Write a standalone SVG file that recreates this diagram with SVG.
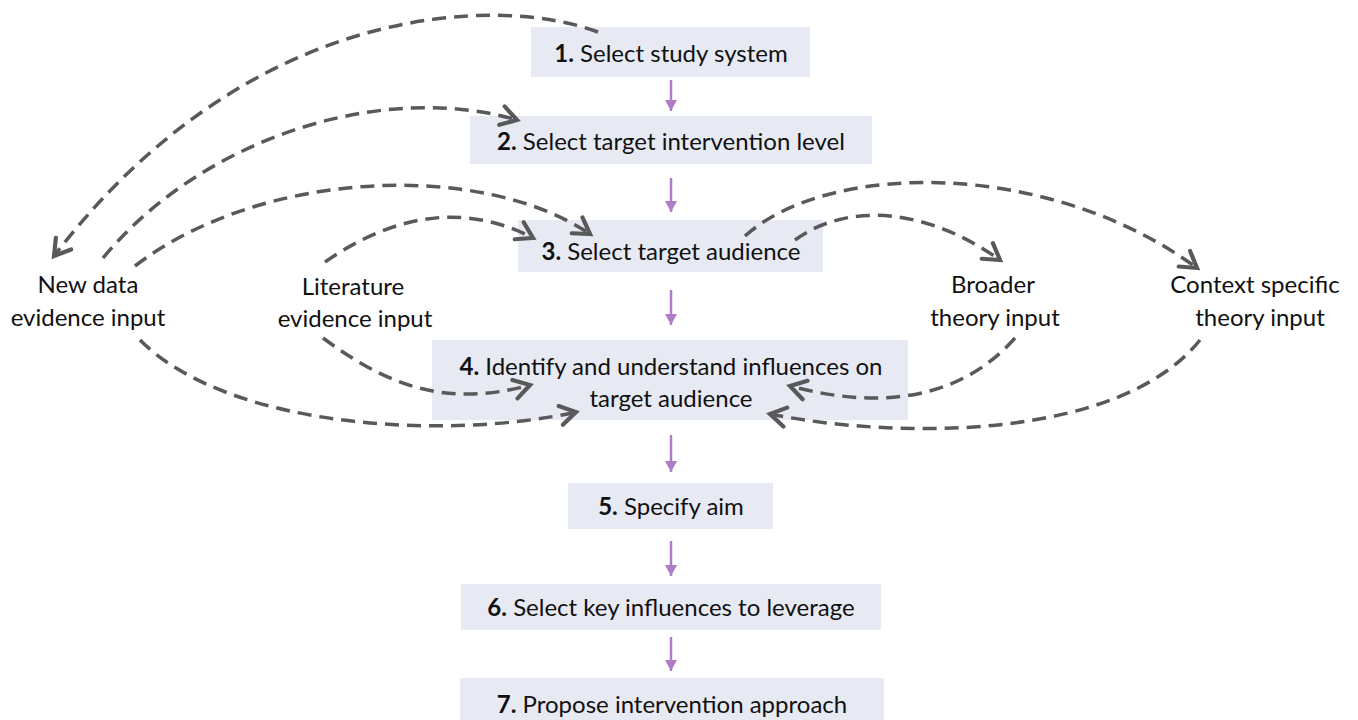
<svg xmlns="http://www.w3.org/2000/svg" width="1358" height="720" viewBox="0 0 1358 720">
<defs>
<marker id="chev" markerUnits="userSpaceOnUse" markerWidth="24" markerHeight="24" viewBox="-16 -10 20 20" refX="0" refY="0" orient="auto">
<path d="M -13 -8 L 0 0 L -13 8" fill="none" stroke="#595959" stroke-width="3.5" stroke-linecap="round" stroke-linejoin="miter"/>
</marker>
<marker id="tri" markerUnits="userSpaceOnUse" markerWidth="16" markerHeight="16" viewBox="-12 -8 14 16" refX="0" refY="0" orient="auto">
<path d="M -11 -6 L 0 0 L -11 6 Z" fill="#b07cc6"/>
</marker>
<style>
.box{fill:#e7e9f3}
.t{font-family:Lato,"Liberation Sans",sans-serif;font-size:24px;fill:#111;text-anchor:middle}
.b{font-weight:bold}
.lab{font-family:Lato,"Liberation Sans",sans-serif;font-size:24px;fill:#111;text-anchor:middle}
.dash{fill:none;stroke:#595959;stroke-width:3.5;stroke-dasharray:14 8;marker-end:url(#chev)}
.flow{fill:none;stroke:#b07cc6;stroke-width:2.5;marker-end:url(#tri)}
</style>
</defs>
<rect width="1358" height="720" fill="#ffffff"/>
<g id="n1"><rect class="box" x="531" y="27" width="279" height="50"/><text class="t" x="671" y="62"><tspan class="b">1.</tspan> Select study system</text></g>
<g id="n2"><rect class="box" x="470" y="116" width="402" height="48"/><text class="t" x="671" y="150"><tspan class="b">2.</tspan> Select target intervention level</text></g>
<g id="n3"><rect class="box" x="518" y="220" width="305" height="52"/><text class="t" x="671" y="260"><tspan class="b">3.</tspan> Select target audience</text></g>
<g id="n4"><rect class="box" x="432" y="340" width="476" height="80"/><text class="t" x="671" y="375"><tspan class="b">4.</tspan> Identify and understand influences on</text><text class="t" x="671" y="407">target audience</text></g>
<g id="n5"><rect class="box" x="568" y="483" width="205" height="46"/><text class="t" x="671" y="515"><tspan class="b">5.</tspan> Specify aim</text></g>
<g id="n6"><rect class="box" x="461" y="584" width="420" height="46"/><text class="t" x="671" y="616"><tspan class="b">6.</tspan> Select key influences to leverage</text></g>
<g id="n7"><rect class="box" x="460" y="678" width="424" height="42"/><text class="t" x="672" y="713"><tspan class="b">7.</tspan> Propose intervention approach</text></g>
<g id="l1"><text class="lab" x="88" y="293">New data</text><text class="lab" x="88" y="326">evidence input</text></g>
<g id="l2"><text class="lab" x="353" y="295">Literature</text><text class="lab" x="355" y="327">evidence input</text></g>
<g id="l3"><text class="lab" x="993" y="293">Broader</text><text class="lab" x="995" y="326">theory input</text></g>
<g id="l4"><text class="lab" x="1255" y="293">Context specific</text><text class="lab" x="1260" y="326">theory input</text></g>
<g id="connectors">
<path class="flow" d="M 671 80 V 111"/>
<path class="flow" d="M 671 178 V 212"/>
<path class="flow" d="M 671 290 V 325"/>
<path class="flow" d="M 671 435 V 472"/>
<path class="flow" d="M 671 541 V 576"/>
<path class="flow" d="M 671 637 V 671"/>
<path class="dash" d="M 598 32 C 500 -5, 250 0, 54 256"/>
<path class="dash" d="M 103 258 C 200 140, 380 80, 517 120"/>
<path class="dash" d="M 135 266 C 260 170, 480 160, 590 234"/>
<path class="dash" d="M 325 262 C 400 210, 470 205, 533 238"/>
<path class="dash" d="M 745 236 C 830 160, 1050 160, 1197 268"/>
<path class="dash" d="M 795 240 C 850 200, 930 210, 1000 260"/>
<path class="dash" d="M 140 340 C 230 430, 450 440, 576 412"/>
<path class="dash" d="M 323 338 C 380 380, 440 410, 530 385"/>
<path class="dash" d="M 1015 338 C 960 400, 880 410, 790 386"/>
<path class="dash" d="M 1200 340 C 1120 440, 900 440, 770 414"/>
</g>
</svg>
